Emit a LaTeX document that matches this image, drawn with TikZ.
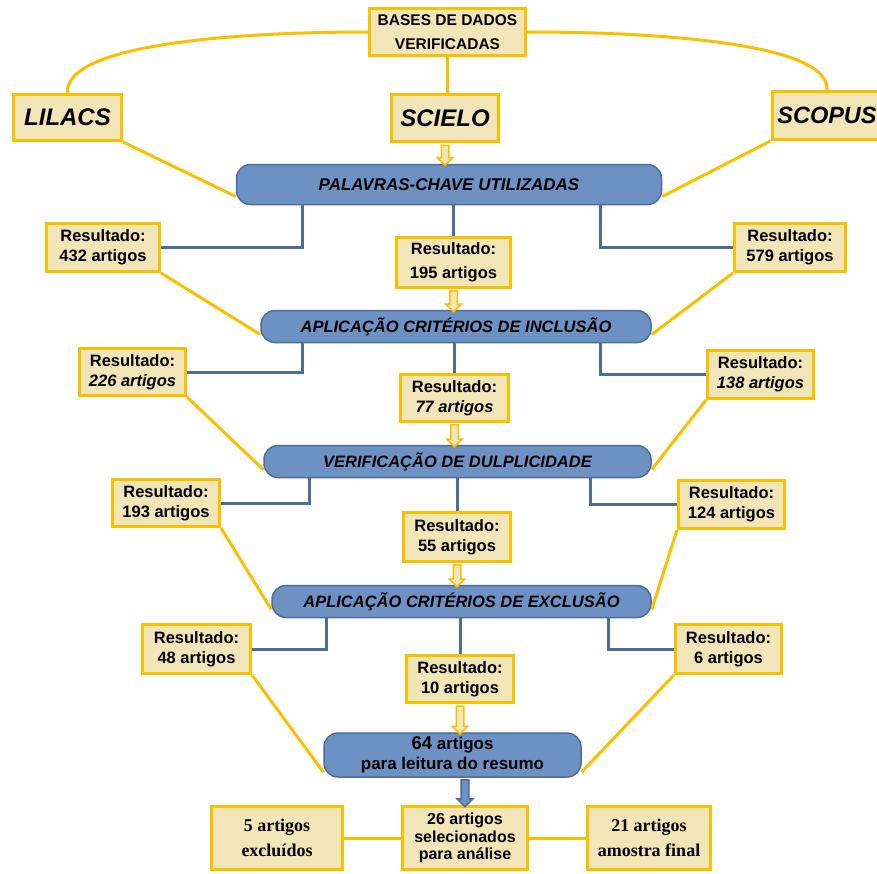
\documentclass[tikz,border=0pt]{standalone}
\usepackage{fontspec}
\setmainfont{Liberation Sans}
\newfontfamily\timesfont{Liberation Serif}
\usetikzlibrary{shapes.arrows}

\definecolor{gold}{RGB}{250,192,0}
\definecolor{tanfill}{RGB}{242,229,184}
\definecolor{flowblue}{RGB}{110,145,196}
\definecolor{flowedge}{RGB}{76,108,156}
\definecolor{linkblue}{RGB}{78,108,152}

\begin{document}
\begin{tikzpicture}[x=1pt,y=1pt,yscale=-1,xscale=1,
    resbox/.style={draw=gold,line width=3pt,fill=tanfill,align=center,inner sep=2pt,
      font=\fontsize{16.5}{20}\selectfont\bfseries},
    dbbox/.style={resbox,font=\fontsize{24}{28}\selectfont\bfseries\itshape},
    flowbox/.style={draw=flowedge,line width=1.5pt,fill=flowblue,rounded corners=14pt,
      align=center,font=\fontsize{16.5}{20}\selectfont\bfseries\itshape},
    hollowarr/.style={single arrow,draw=gold,fill=tanfill,line width=1.5pt,
      shape border rotate=270,minimum width=14pt,single arrow head extend=4pt,
      inner sep=3pt},
    bluearr/.style={hollowarr,draw=flowedge,fill=flowblue,minimum width=16pt},
    yline/.style={draw=gold,line width=3pt},
    bline/.style={draw=linkblue,line width=3pt}]
        \useasboundingbox (0,0) rectangle (877,873);
        \clip (0,0) rectangle (877,873);
        % Text Node
        \node [resbox,minimum width=156,minimum height=47,font=\fontsize{15.5}{24}\selectfont\bfseries] (base) at (447.5,32) {BASES DE DADOS\\VERIFICADAS};
        % Text Node
        \node [dbbox,minimum width=108,minimum height=46] (lilacs) at (67.5,117.5) {LILACS};
        % Text Node
        \node [dbbox,minimum width=107,minimum height=47] (scielo) at (445,118) {SCIELO};
        % Text Node
        \node [dbbox,minimum width=110,minimum height=48,font=\fontsize{23.5}{28}\selectfont\bfseries\itshape] (scopus) at (827,115.5) {SCOPUS};
        % Text Node
        \node [flowbox,minimum width=425,minimum height=40,font=\fontsize{17}{20}\selectfont\bfseries\itshape] (kw) at (449,184.5) {PALAVRAS-CHAVE UTILIZADAS};
        % Text Node
        \node [resbox,minimum width=113,minimum height=48] (r1l) at (103,247.5) {Resultado:\\432 artigos};
        % Text Node
        \node [resbox,minimum width=114,minimum height=50,font=\fontsize{16.5}{24}\selectfont\bfseries] (r1c) at (453.5,262.5) {Resultado:\\195 artigos};
        % Text Node
        \node [resbox,minimum width=111,minimum height=48] (r1r) at (790,247.5) {Resultado:\\579 artigos};
        % Text Node
        \node [flowbox,minimum width=390,minimum height=32] (inc) at (456,326.5) {APLICAÇÃO CRITÉRIOS DE INCLUSÃO};
        % Text Node
        \node [resbox,minimum width=106,minimum height=47] (r2l) at (132.5,372) {Resultado:\\\textit{226 artigos}};
        % Text Node
        \node [resbox,minimum width=108,minimum height=47] (r2c) at (454.5,398) {Resultado:\\\textit{77 artigos}};
        % Text Node
        \node [resbox,minimum width=106,minimum height=48] (r2r) at (760.5,374.5) {Resultado:\\\textit{138 artigos}};
        % Text Node
        \node [flowbox,minimum width=387,minimum height=32] (dup) at (457.5,461.5) {VERIFICAÇÃO DE DULPLICIDADE};
        % Text Node
        \node [resbox,minimum width=107,minimum height=47] (r3l) at (166,503) {Resultado:\\193 artigos};
        % Text Node
        \node [resbox,minimum width=107,minimum height=49] (r3c) at (457,537) {Resultado:\\55 artigos};
        % Text Node
        \node [resbox,minimum width=106,minimum height=48] (r3r) at (731.5,504.5) {Resultado:\\124 artigos};
        % Text Node
        \node [flowbox,minimum width=379,minimum height=32] (exc) at (461.5,601.5) {APLICAÇÃO CRITÉRIOS DE EXCLUSÃO};
        % Text Node
        \node [resbox,minimum width=108,minimum height=49] (r4l) at (196.5,649) {Resultado:\\48 artigos};
        % Text Node
        \node [resbox,minimum width=107,minimum height=47] (r4c) at (460,679) {Resultado:\\10 artigos};
        % Text Node
        \node [resbox,minimum width=106,minimum height=49] (r4r) at (728.5,649) {Resultado:\\6 artigos};
        % Text Node
        \node [flowbox,minimum width=257,minimum height=44,font=\fontsize{17}{20}\selectfont\bfseries] (read) at (452.5,755) {{\fontsize{18.5}{20}\selectfont 64} artigos\\para leitura do resumo};
        % Text Node
        \node [resbox,minimum width=125,minimum height=63,font=\fontsize{16}{17.5}\selectfont\bfseries] (sel) at (465,838) {26 artigos\\selecionados\\para análise};
        % Text Node
        \node [resbox,minimum width=131,minimum height=63,font=\fontsize{18}{25}\selectfont\timesfont\bfseries] (excl) at (277,838) {5 artigos\\excluídos};
        % Text Node
        \node [resbox,minimum width=123,minimum height=63,font=\fontsize{18}{25}\selectfont\timesfont\bfseries] (final) at (649,838) {21 artigos\\amostra final};
        % Connection
        \draw [yline] (lilacs.north) .. controls (64,42) and (250,32) .. (base.west);
        % Connection
        \draw [yline] (base.east) .. controls (650,32) and (830,42) .. (scopus.north);
        % Connection
        \draw [yline] (base.south) -- (base.south |- scielo.north);
        % Connection
        \draw [yline] (lilacs.south east) -- ([yshift=12pt]kw.west);
        % Connection
        \draw [yline] (scopus.south west) -- ([yshift=12pt]kw.east);
        % Connection
        \path (scielo.south) -- (scielo.south |- kw.north) node [midway,hollowarr,minimum height=20] (a0) {};
        % Connection
        \draw [bline] ([xshift=-147pt]kw.south) |- (r1l.east);
        \draw [bline] (kw.south -| r1c.north) -- (r1c.north);
        \draw [bline] ([xshift=151pt]kw.south) |- (r1r.west);
        % Connection
        \draw [yline] (r1l.south east) -- ([yshift=8pt]inc.west);
        \draw [yline] (r1r.south west) -- ([yshift=8pt]inc.east);
        \path (r1c.south) -- (r1c.south |- inc.north) node [midway,hollowarr,minimum height=21] (a1) {};
        % Connection
        \draw [bline] ([xshift=-154pt]inc.south) |- (r2l.east);
        \draw [bline] (inc.south -| r2c.north) -- (r2c.north);
        \draw [bline] ([xshift=144pt]inc.south) |- (r2r.west);
        % Connection
        \draw [yline] (r2l.south east) -- ([yshift=8pt]dup.west);
        \draw [yline] (r2r.south west) -- ([yshift=8pt]dup.east);
        \path (r2c.south) -- (r2c.south |- dup.north) node [midway,hollowarr,minimum height=22] (a2) {};
        % Connection
        \draw [bline] ([xshift=-148.5pt]dup.south) |- (r3l.east);
        \draw [bline] (dup.south -| r3c.north) -- (r3c.north);
        \draw [bline] ([xshift=132.5pt]dup.south) |- (r3r.west);
        % Connection
        \draw [yline] (r3l.south east) -- ([yshift=8pt]exc.west);
        \draw [yline] (r3r.south west) -- ([yshift=8pt]exc.east);
        \path (r3c.south) -- (r3c.south |- exc.north) node [midway,hollowarr,minimum height=22] (a3) {};
        % Connection
        \draw [bline] ([xshift=-135.5pt]exc.south) |- (r4l.east);
        \draw [bline] (exc.south -| r4c.north) -- (r4c.north);
        \draw [bline] ([xshift=146.5pt]exc.south) |- (r4r.west);
        % Connection
        \draw [yline] (r4l.south east) -- ([yshift=17pt]read.west);
        \draw [yline] (r4r.south west) -- ([yshift=17pt]read.east);
        \path (r4c.south) -- (r4c.south |- read.north) node [midway,hollowarr,minimum height=28] (a4) {};
        % Connection
        \path (read.south -| sel.north) -- (sel.north) node [midway,bluearr,minimum height=27] (a5) {};
        % Connection
        \draw [yline] (excl.east) -- (sel.west);
        \draw [yline] (sel.east) -- (final.west);
    \end{tikzpicture}
\end{document}
